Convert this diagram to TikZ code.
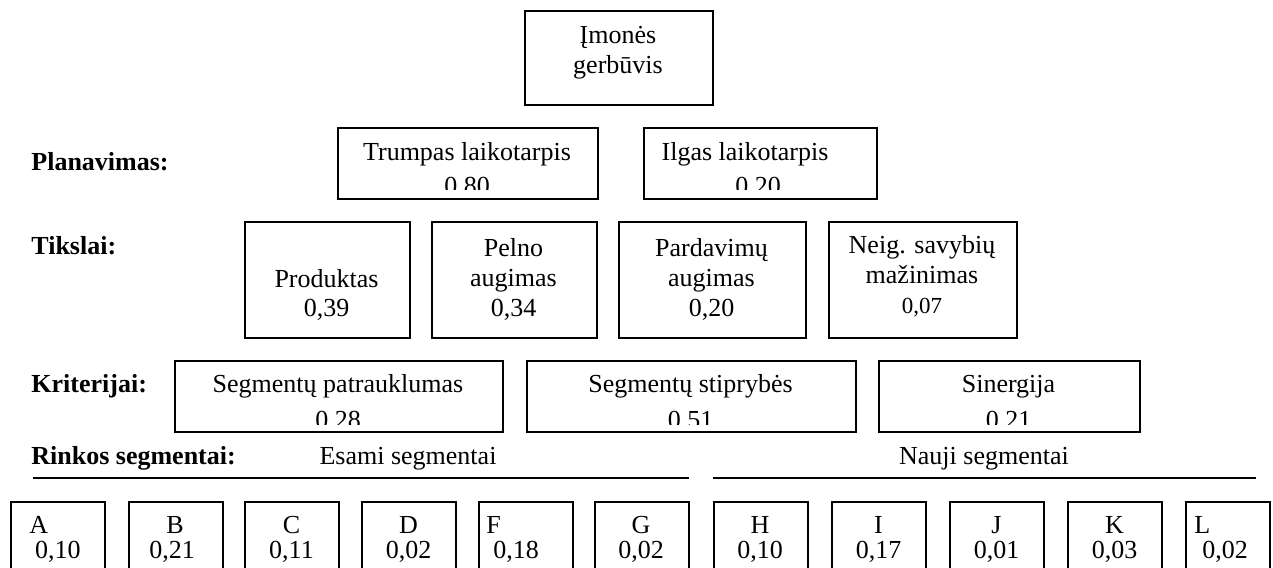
\documentclass[tikz,border=0pt]{standalone}
\usepackage{fontspec}
\setmainfont{Liberation Serif}
\begin{document}
\begin{tikzpicture}[x=0.5pt,y=-0.5pt,
  box/.style={draw, line width=0.9pt, inner sep=0pt, anchor=north west},
  txt/.style={inner sep=0pt, anchor=base, font=\fontsize{13}{15}\selectfont},
  txtl/.style={inner sep=0pt, anchor=base west, font=\fontsize{13}{15}\selectfont},
  small/.style={inner sep=0pt, anchor=base, font=\fontsize{11.5}{14}\selectfont},
  lbl/.style={inner sep=0pt, anchor=base west, font=\fontsize{13}{15}\selectfont\bfseries},
  rule/.style={line width=0.9pt}]
\clip (0,0) rectangle (1273,567);

% top goal
\node[box, minimum width=94pt, minimum height=47pt] (top) at (524,10) {};
\node[txt] (topA) at (618,44) {Įmonės};
\node[txt] (topB) at (618,74) {gerbūvis};

% planning horizon
\node[lbl] (plan) at (31,170) {Planavimas:};
\node[box, minimum width=130pt, minimum height=35.5pt] (short) at (337,127) {};
\node[txt] (shortA) at (467,160) {Trumpas laikotarpis};
\begin{scope}
  \clip (short.north west) rectangle ([yshift=5pt]short.south east);
  \node[txt] (shortB) at (467,194) {0.80};
\end{scope}
\node[box, minimum width=116.5pt, minimum height=35.5pt] (long) at (643,127) {};
\node[txt] (longA) at (745,160) {Ilgas laikotarpis};
\begin{scope}
  \clip (long.north west) rectangle ([yshift=5pt]long.south east);
  \node[txt] (longB) at (758,194) {0.20};
\end{scope}

% goals
\node[lbl] (goals) at (31,254) {Tikslai:};
\node[box, minimum width=82.5pt, minimum height=58pt] (g1) at (244,221) {};
\node[txt] (g1a) at (326.5,287) {Produktas};
\node[txt] (g1b) at (326.5,316) {0,39};
\node[box, minimum width=82.5pt, minimum height=58pt] (g2) at (431,221) {};
\node[txt] (g2a) at (513.5,256) {Pelno};
\node[txt] (g2b) at (513.5,286) {augimas};
\node[txt] (g2c) at (513.5,316) {0,34};
\node[box, minimum width=93.5pt, minimum height=58pt] (g3) at (618,221) {};
\node[txt] (g3a) at (711.5,256) {Pardavimų};
\node[txt] (g3b) at (711.5,286) {augimas};
\node[txt] (g3c) at (711.5,316) {0,20};
\node[box, minimum width=94pt, minimum height=58pt] (g4) at (828,221) {};
\node[txt] (g4a) at (922,253) {Neig. savybių};
\node[txt] (g4b) at (922,283) {mažinimas};
\node[small] (g4c) at (922,313) {0,07};

% criteria
\node[lbl] (crit) at (31,392) {Kriterijai:};
\node[box, minimum width=164pt, minimum height=35.5pt] (c1) at (174,360) {};
\node[txt] (c1a) at (338,392) {Segmentų patrauklumas};
\begin{scope}
  \clip (c1.north west) rectangle ([yshift=4pt]c1.south east);
  \node[txt] (c1b) at (338,428) {0.28};
\end{scope}
\node[box, minimum width=164.5pt, minimum height=35.5pt] (c2) at (526,360) {};
\node[txt] (c2a) at (690.5,392) {Segmentų stiprybės};
\begin{scope}
  \clip (c2.north west) rectangle ([yshift=4pt]c2.south east);
  \node[txt] (c2b) at (690.5,428) {0.51};
\end{scope}
\node[box, minimum width=130.5pt, minimum height=35.5pt] (c3) at (878,360) {};
\node[txt] (c3a) at (1008.5,392) {Sinergija};
\begin{scope}
  \clip (c3.north west) rectangle ([yshift=4pt]c3.south east);
  \node[txt] (c3b) at (1008.5,428) {0.21};
\end{scope}

% market segments
\node[lbl] (seg) at (31,464) {Rinkos segmentai:};
\node[txt] (existing) at (408,464) {Esami segmentai};
\node[txt] (new) at (984,464) {Nauji segmentai};
\coordinate (r1a) at (33,478);
\coordinate (r1b) at (689,478);
\coordinate (r2a) at (713,478);
\coordinate (r2b) at (1256,478);
\draw[rule] (r1a) -- (r1b);
\draw[rule] (r2a) -- (r2b);

\foreach \nm/\xx in {A/10,B/128,C/244,D/361,F/478,G/594,H/713,I/831,J/949,K/1067}
  \node[box, minimum width=47pt, minimum height=50pt] (s\nm) at (\xx,501) {};
\node[box, minimum width=42pt, minimum height=50pt] (sL) at (1185,501) {};

\node[txtl] (sAa) at (29,533) {A};
\node[txt] (sAb) at (58,558) {0,10};
\node[txt] (sBa) at (175,533) {B};
\node[txt] (sBb) at (172,558) {0,21};
\node[txt] (sCa) at (291.5,533) {C};
\node[txt] (sCb) at (291.5,558) {0,11};
\node[txt] (sDa) at (408.5,533) {D};
\node[txt] (sDb) at (408.5,558) {0,02};
\node[txtl] (sFa) at (486,533) {F};
\node[txt] (sFb) at (516,558) {0,18};
\node[txt] (sGa) at (641,533) {G};
\node[txt] (sGb) at (641,558) {0,02};
\node[txt] (sHa) at (760,533) {H};
\node[txt] (sHb) at (760,558) {0,10};
\node[txt] (sIa) at (878.5,533) {I};
\node[txt] (sIb) at (878.5,558) {0,17};
\node[txt] (sJa) at (996.5,533) {J};
\node[txt] (sJb) at (996.5,558) {0,01};
\node[txt] (sKa) at (1114.5,533) {K};
\node[txt] (sKb) at (1114.5,558) {0,03};
\node[txtl] (sLa) at (1194,533) {L};
\node[txt] (sLb) at (1225,558) {0,02};
\end{tikzpicture}
\end{document}
